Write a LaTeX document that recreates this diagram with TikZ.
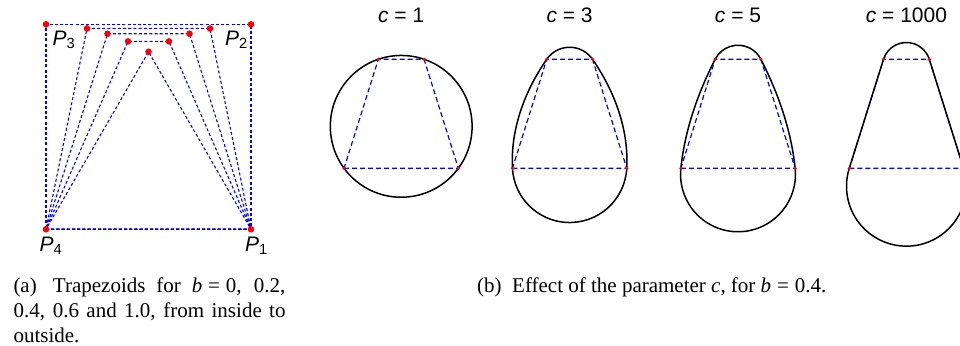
\documentclass[tikz,border=0pt]{standalone}
\usepackage{fontspec}
\setmainfont{Liberation Serif}
\setsansfont{Liberation Sans}
\begin{document}
\begin{tikzpicture}[x=1pt,y=1pt,
  trapa/.style={blue, dash pattern=on 3pt off 2.2pt, line width=1.1pt},
  trapb/.style={blue, dash pattern=on 5pt off 3pt, line width=1.2pt},
  eggline/.style={black, line width=1.5pt},
  dota/.style={circle, fill=red, inner sep=0pt, minimum size=6.6pt},
  dotb/.style={circle, fill=red, inner sep=0pt, minimum size=3.6pt},
  lab/.style={font=\sffamily\fontsize{21}{25}\selectfont, inner sep=0pt},
  capt/.style={font=\fontsize{21}{25}\selectfont, inner sep=0pt, anchor=base west}]
\useasboundingbox (0,0) rectangle (960,345);
\clip (0,0) rectangle (960,345);

% ---------- panel (a) ----------
\coordinate (P4) at (46,115.7);
\coordinate (P1) at (251,115.7);
\coordinate (P2) at (251,320.7);
\coordinate (P3) at (46,320.7);
\draw[trapa] (P4) -- (P1) -- (P2) -- (P3) -- cycle;
\foreach \b/\i in {0/0,0.2/1,0.4/2,0.6/3}{
  \pgfmathsetmacro\yt{115.7+205*sqrt(1-((1-\b)/2)^2)}
  \coordinate (L\i) at ({148.5-\b*102.5},\yt);
  \coordinate (R\i) at ({148.5+\b*102.5},\yt);
  \draw[trapa] (P4) -- (P1) -- (R\i) -- (L\i) -- cycle;
}
\foreach \p in {P1,P2,P3,P4,L0,L1,R1,L2,R2,L3,R3}{
  \node[dota] (dot\p) at (\p) {};
}
\node[lab, anchor=base west] (lP3) at (52.3,299.3) {\textit{P}\textsubscript{3}};
\node[lab, anchor=base west] (lP2) at (225,299.3) {\textit{P}\textsubscript{2}};
\node[lab, anchor=base west] (lP4) at (39.3,93.3) {\textit{P}\textsubscript{4}};
\node[lab, anchor=base west] (lP1) at (245,93.3) {\textit{P}\textsubscript{1}};

% ---------- panel (b) ----------
\foreach \k/\cx/\cl in {1/401.2/1,2/569.6/3,3/738.0/5,4/906.4/1000}{
  \coordinate (BL\k) at ({\cx-57.15},176.7);
  \coordinate (BR\k) at ({\cx+57.15},176.7);
  \coordinate (TL\k) at ({\cx-22.86},285.75);
  \coordinate (TR\k) at ({\cx+22.86},285.75);
  \draw[trapb] (BL\k) -- (BR\k) -- (TR\k) -- (TL\k) -- cycle;
  \node[lab, anchor=base] (lc\k) at (\cx,322.3) {\textit{c} = \cl};
}
% c = 1 : circumscribed circle
\coordinate (C1) at (401.2,218.65);
\draw[eggline] (C1) circle[radius=70.89];
% c = 3, 5, 1000
\foreach \k/\aT/\aB/\L in {2/55.3/93/39,3/63/84/38.5,4/72.54/72.54/38}{
  \draw[eggline] (TL\k)
    arc[start angle={90+\aT}, end angle={90-\aT}, radius={22.86/sin(\aT)}]
    .. controls +({-\aT}:\L) and +({180-\aB}:\L) .. (BR\k)
    arc[start angle={90-\aB}, end angle={\aB-270}, radius={57.15/sin(\aB)}]
    .. controls +({\aB}:\L) and +({180+\aT}:\L) .. (TL\k) -- cycle;
}
\foreach \k in {1,2,3,4}{
  \foreach \q in {BL,BR,TL,TR}{
    \node[dotb] (d\q\k) at (\q\k) {};
  }
}

% ---------- captions ----------
\node[capt] (capa1) at (13.3,52) {\makebox[272pt][s]{(a)\hspace{0.25em} Trapezoids for \textit{b}\hspace{0.28em}=\hspace{0.28em}0, 0.2,}};
\node[capt] (capa2) at (13.3,27.4) {\makebox[272pt][s]{0.4, 0.6 and 1.0, from inside to}};
\node[capt] (capa3) at (13.3,2.8) {outside.};
\node[capt] (capb) at (477,52) {(b)\hspace{0.25em} Effect of the parameter \textit{c}, for \textit{b}\hspace{0.28em}=\hspace{0.28em}0.4.};
\end{tikzpicture}
\end{document}
